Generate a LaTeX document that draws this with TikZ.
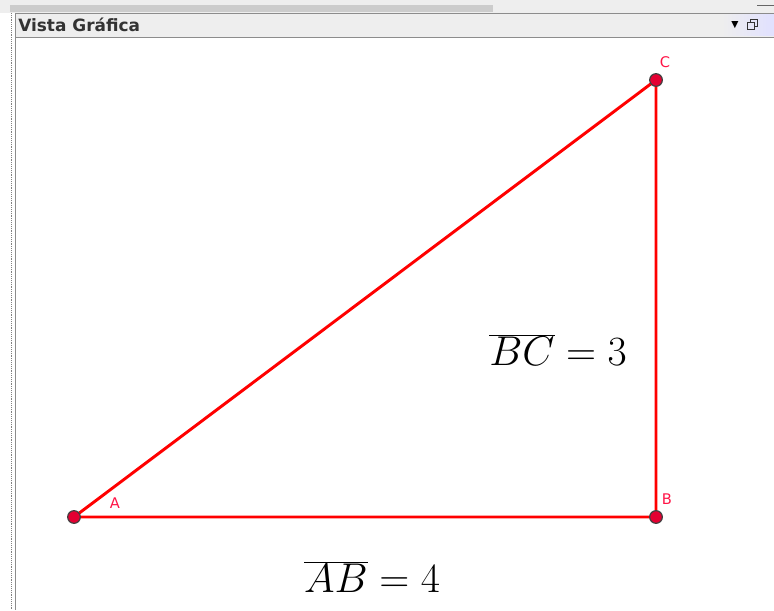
\documentclass[tikz,border=0pt]{standalone}
\usepackage{fontspec}
\setsansfont{DejaVu Sans}
\definecolor{ggline}{RGB}{255,0,0}
\definecolor{ggpoint}{RGB}{228,0,50}
\definecolor{gglabel}{RGB}{255,20,70}
\definecolor{panel}{RGB}{238,238,238}
\begin{document}
\begin{tikzpicture}[x=0.75pt, y=-0.75pt,
  pt/.style={circle, draw=black!75, fill=ggpoint, line width=0.9pt, inner sep=0pt, minimum size=9.5pt},
  lbl/.style={text=gglabel, font=\sffamily\fontsize{11}{13}\selectfont},
  eq/.style={font=\Huge, scale=1.255, transform shape}]
\useasboundingbox (0,0) rectangle (774,610);
\fill[white] (0,0) rectangle (774,610);
% window frame
\fill[panel] (0,0) rectangle (774,13);
\fill[black!20] (10,5) rectangle (493,12);
\draw[black!60] (757,5) -- (774,5);
\fill[panel] (15,13) rectangle (774,37);
\shade[left color=panel, right color=blue!12] (722,14) rectangle (774,36);
\draw[black!45] (15,13) -- (774,13) (15,37) -- (774,37);
\draw[black!45] (15,13) -- (15,610);
\draw[black!50, densely dotted] (11,13) -- (11,610);
\node[anchor=west, font=\sffamily\bfseries\fontsize{12.7}{15}\selectfont, text=black!80, inner sep=0pt] (title) at (18,25) {Vista Gráfica};
\node[font=\sffamily\fontsize{7}{8}\selectfont] (menu) at (735,25) {▼};
\draw[black!80, line width=0.6pt] (747,22) rectangle (754,29);
\draw[black!80, line width=0.6pt] (750,22) -- (750,19) -- (757,19) -- (757,26) -- (754,26);
% triangle
\coordinate (A) at (74,517);
\coordinate (B) at (656,517);
\coordinate (C) at (656,80);
\draw[ggline, line width=2.2pt] (A) -- (B) -- (C) -- cycle;
\node[pt] (pA) at (A) {};
\node[pt] (pB) at (B) {};
\node[pt] (pC) at (C) {};
\node[lbl] (labA) at (115,503) {A};
\node[lbl] (labB) at (667,499) {B};
\node[lbl] (labC) at (665,62) {C};
\node[eq] (bc) at (558,350) {$\overline{BC}=3$};
\node[eq] (ab) at (372,577) {$\overline{AB}=4$};
\end{tikzpicture}
\end{document}
